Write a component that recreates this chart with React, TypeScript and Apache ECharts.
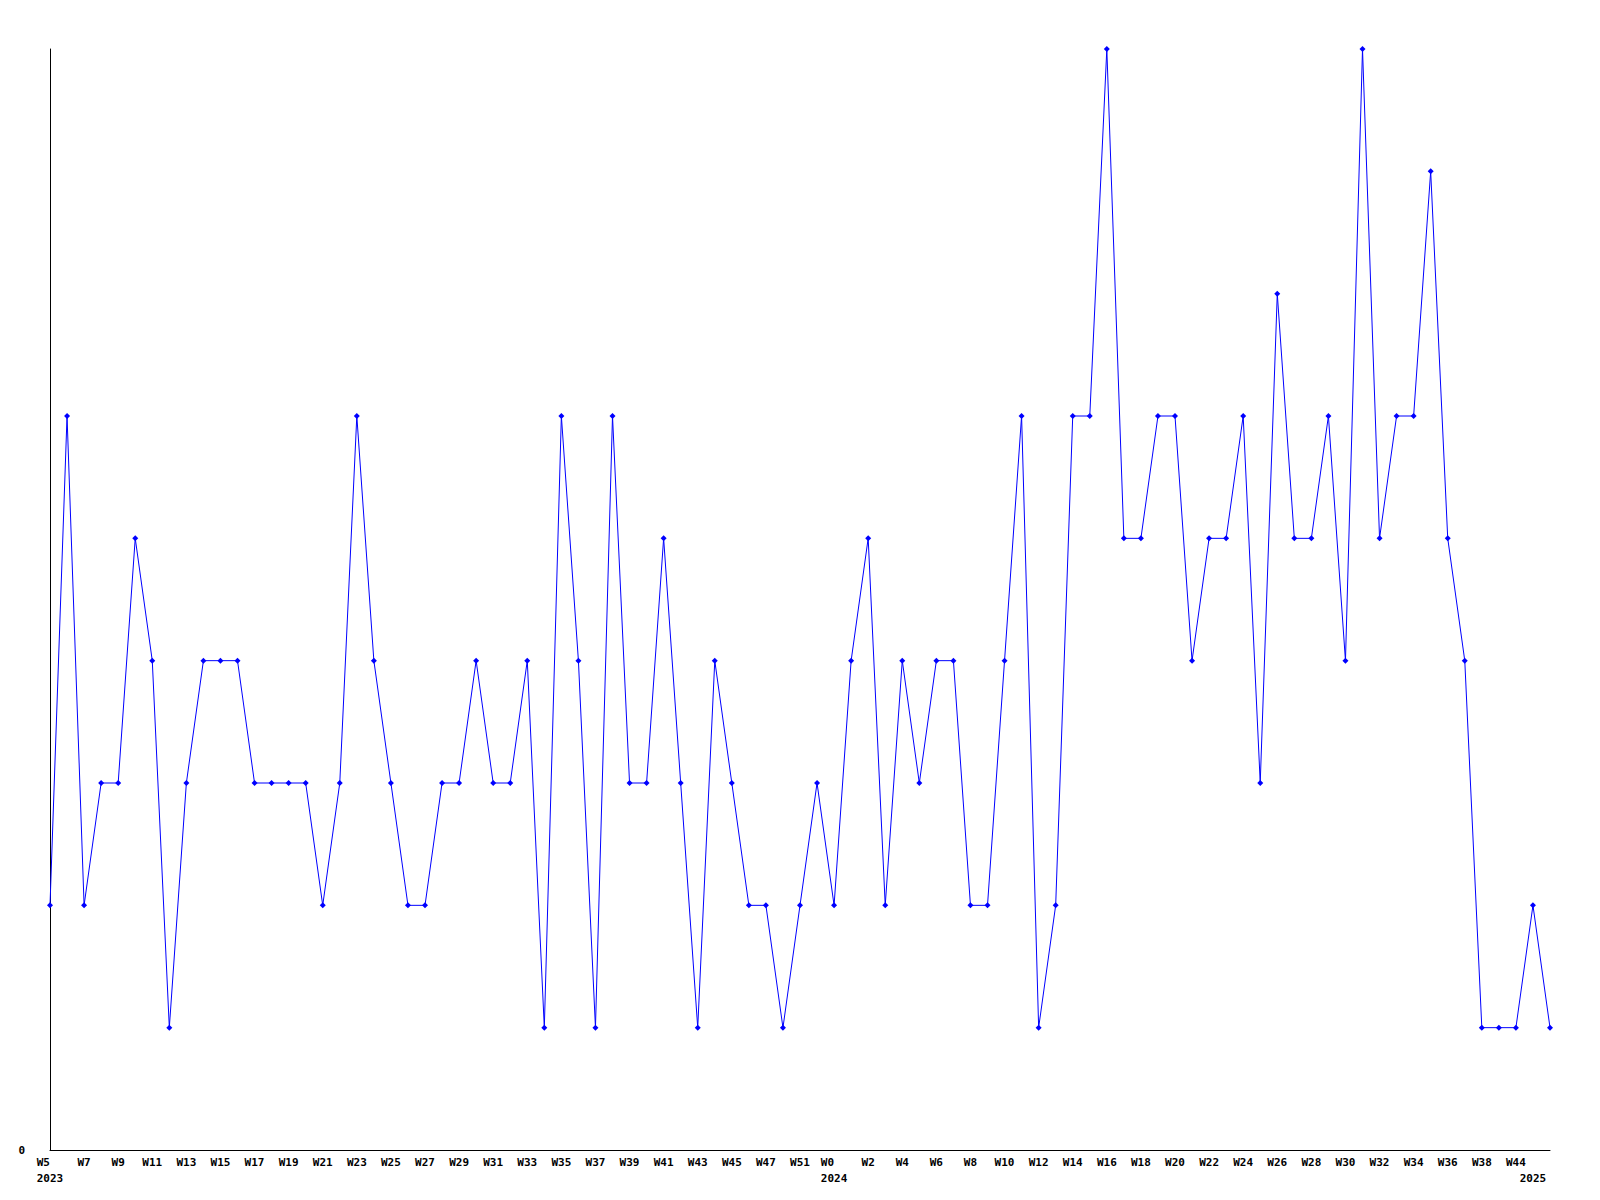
import React, { useEffect, useRef } from "react";
import * as echarts from "echarts";

const weeks = [
  "W5", "W6", "W7", "W8", "W9", "W10", "W11", "W12", "W13", "W14",
  "W15", "W16", "W17", "W18", "W19", "W20", "W21", "W22", "W23", "W24",
  "W25", "W26", "W27", "W28", "W29", "W30", "W31", "W32", "W33", "W34",
  "W35", "W36", "W37", "W38", "W39", "W40", "W41", "W42", "W43", "W44",
  "W45", "W46", "W47", "W49", "W51", "W52",
  "W0", "W1", "W2", "W3", "W4", "W5", "W6", "W7", "W8", "W9",
  "W10", "W11", "W12", "W13", "W14", "W15", "W16", "W17", "W18", "W19",
  "W20", "W21", "W22", "W23", "W24", "W25", "W26", "W27", "W28", "W29",
  "W30", "W31", "W32", "W33", "W34", "W35", "W36", "W37", "W38", "W40",
  "W44",
  "W1", "W2",
];

const values = [
  2, 6, 2, 3, 3, 5, 4, 1, 3, 4,
  4, 4, 3, 3, 3, 3, 2, 3, 6, 4,
  3, 2, 2, 3, 3, 4, 3, 3, 4, 1,
  6, 4, 1, 6, 3, 3, 5, 3, 1, 4,
  3, 2, 2, 1, 2, 3, 2, 4, 5, 2,
  4, 3, 4, 4, 2, 2, 4, 6, 1, 2,
  6, 6, 9, 5, 5, 6, 6, 4, 5, 5,
  6, 3, 7, 5, 5, 6, 4, 9, 5, 6,
  6, 8, 5, 4, 1, 1, 1, 2, 1,
];

const yearLabels = ["2023", "2024", "2025"];
const yearStartIndex = [0, 46, 87];

const FONT = "DejaVu Sans Mono";

export default function App() {
  const ref = useRef<HTMLDivElement>(null);
  useEffect(() => {
    if (!ref.current) return;
    const chart = echarts.init(ref.current, null, { renderer: "svg" });
    const nb = "\u00a0";
    chart.setOption({
      animation: false,
      backgroundColor: "#ffffff",
      grid: { left: 50, right: 50, top: 49, bottom: 50, containLabel: false },
      xAxis: {
        type: "category",
        data: weeks,
        boundaryGap: false,
        axisLine: { show: true, lineStyle: { color: "#000000", width: 1 } },
        axisTick: { show: false },
        splitLine: { show: false },
        axisLabel: {
          interval: (i: number) => i % 2 === 0 || yearStartIndex.includes(i),
          formatter: (v: string, i: number) => {
            const y = yearStartIndex.indexOf(i);
            const w = i % 2 === 0 ? v : nb;
            if (y >= 0) {
              const yl = yearLabels[y];
              const pad = Math.max(0, yl.length - w.length);
              return w + nb.repeat(pad) + "\n" + yl;
            }
            return w;
          },
          color: "#000000",
          fontFamily: FONT,
          fontWeight: "bold",
          fontSize: 11,
          lineHeight: 16,
          margin: 4,
        },
      },
      yAxis: {
        type: "value",
        min: 0,
        max: 9,
        interval: 9,
        axisLine: { show: true, lineStyle: { color: "#000000", width: 1 } },
        axisTick: { show: false },
        splitLine: { show: false },
        axisLabel: {
          formatter: (v: number) => (v === 0 ? "0" : ""),
          color: "#000000",
          fontFamily: FONT,
          fontWeight: "bold",
          fontSize: 11,
          margin: 25,
        },
      },
      series: [
        {
          type: "line",
          data: values,
          symbol: "diamond",
          symbolSize: 6,
          showSymbol: true,
          lineStyle: { color: "#0000ff", width: 1 },
          itemStyle: { color: "#0000ff" },
        },
      ],
    });
    return () => chart.dispose();
  }, []);
  return (
    <div
      ref={ref}
      style={{ position: "absolute", left: 0, top: 0, width: 1600, height: 1200 }}
    />
  );
}
